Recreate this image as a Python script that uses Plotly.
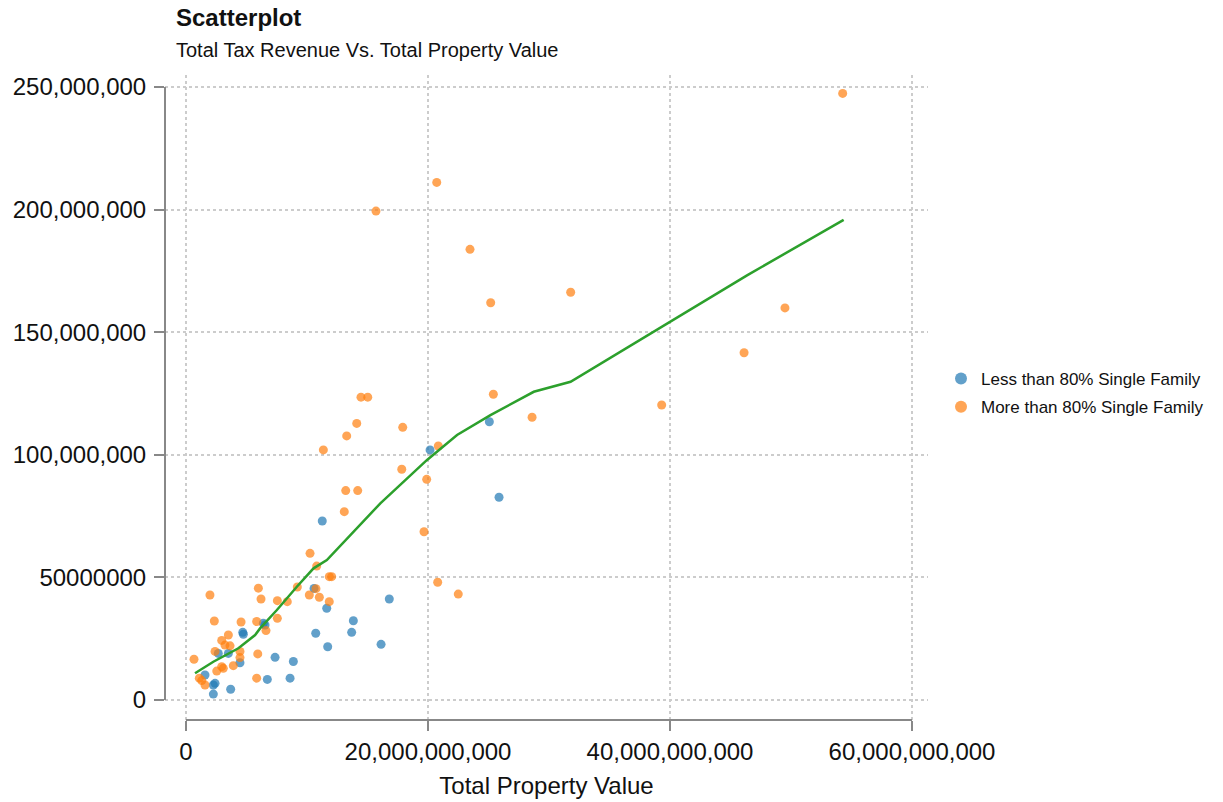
import plotly.graph_objects as go

# ---- data (x in billions of $, y in millions of $) ----
less_x = [20.17, 25.07, 25.87, 11.26, 10.58, 11.63, 16.80, 13.83, 13.69, 10.72,
          11.71, 16.12, 8.87, 8.60, 7.36, 6.72, 4.69, 4.74, 6.39, 6.53,
          2.67, 3.50, 4.46, 3.69, 2.26, 2.40, 2.26, 1.57]
less_y = [102.0, 113.5, 82.7, 73.0, 45.5, 37.4, 41.2, 32.3, 27.6, 27.2,
          21.7, 22.7, 15.7, 8.9, 17.4, 8.4, 27.6, 26.8, 31.3, 30.6,
          19.0, 19.0, 15.2, 4.4, 6.1, 6.8, 2.4, 10.2]

more_x = [54.27, 20.72, 15.70, 23.47, 25.18, 31.79, 49.50, 46.12, 39.31, 28.60,
          25.40, 14.46, 15.02, 14.11, 17.91, 13.28, 11.35, 20.85, 17.83, 19.89,
          13.20, 14.19, 13.08, 19.67, 10.25, 10.80, 11.84, 12.04, 20.80, 22.50,
          1.98, 5.98, 6.20, 7.55, 8.37, 9.20, 10.19, 10.74, 11.02, 11.84,
          2.34, 4.55, 5.84, 6.61, 7.55, 3.50, 2.95, 3.22, 3.64, 2.40,
          4.46, 4.46, 5.93, 0.66, 2.95, 3.08, 3.91, 2.54, 5.84, 1.10,
          1.30, 1.57]
more_y = [247.4, 211.1, 199.4, 183.8, 162.0, 166.3, 159.9, 141.6, 120.3, 115.3,
          124.7, 123.5, 123.5, 112.8, 111.2, 107.7, 102.0, 103.6, 94.1, 90.0,
          85.4, 85.4, 76.8, 68.6, 59.8, 54.6, 50.3, 50.3, 48.0, 43.2,
          42.8, 45.6, 41.2, 40.5, 40.1, 46.1, 42.8, 45.4, 41.9, 40.1,
          32.2, 31.8, 32.0, 28.3, 33.3, 26.5, 24.3, 22.4, 22.1, 19.8,
          19.8, 17.3, 18.8, 16.6, 13.6, 12.9, 14.0, 11.8, 8.9, 8.9,
          7.9, 6.1]

trend_x = [0.745, 2.26, 4.33, 5.71, 6.12, 7.51, 9.16, 10.54, 11.64, 16.06,
           19.92, 22.40, 25.16, 28.74, 31.78, 46.40, 54.35]
trend_y = [10.9, 15.6, 21.1, 26.5, 29.2, 36.7, 46.2, 53.7, 57.1, 80.2,
           97.9, 108.1, 116.2, 125.7, 129.8, 173.3, 195.8]

x_tickvals = [0, 20e9, 40e9, 60e9]
x_ticktext = ["0", "20,000,000,000", "40,000,000,000", "60,000,000,000"]
y_tickvals = [0, 50e6, 100e6, 150e6, 200e6, 250e6]
y_ticktext = ["0", "50000000", "100,000,000", "150,000,000", "200,000,000", "250,000,000"]

B = 1e9
M = 1e6
FONT = "Liberation Sans, Arial, Helvetica, sans-serif"

fig = go.Figure()
fig.add_trace(go.Scatter(
    x=[v * B for v in less_x], y=[v * M for v in less_y], mode="markers",
    name="Less than 80% Single Family", legendgroup="a",
    marker=dict(color="#1f77b4", size=9, opacity=0.7, line=dict(width=0)),
))
fig.add_trace(go.Scatter(
    x=[v * B for v in more_x], y=[v * M for v in more_y], mode="markers",
    name="More than 80% Single Family", legendgroup="b",
    marker=dict(color="#ff7f0e", size=9, opacity=0.7, line=dict(width=0)),
))
fig.add_trace(go.Scatter(
    x=[v * B for v in trend_x], y=[v * M for v in trend_y], mode="lines",
    line=dict(color="#2ca02c", width=2.5), showlegend=False, hoverinfo="skip",
))

axis_common = dict(
    showline=False, zeroline=False, showgrid=True, automargin=False,
    gridcolor="#cccccc", griddash="dot", gridwidth=1.5,
    ticks="outside", ticklen=10, tickwidth=1.5, tickcolor="#888888",
    tickfont=dict(family=FONT, size=24, color="#111111"),
)

# plot area (page px): left 165, right 928, top 75, bottom 720
fig.update_layout(
    width=1223, height=802,
    margin=dict(l=165, r=295, t=75, b=82),
    paper_bgcolor="white", plot_bgcolor="white",
    font=dict(family=FONT, color="#111111"),
    xaxis=dict(
        range=[-1.736e9, 61.32e9], tickvals=x_tickvals, ticktext=x_ticktext,
        title=dict(text="Total Property Value", font=dict(family=FONT, size=24, color="#111111"), standoff=13),
        **axis_common,
    ),
    yaxis=dict(
        range=[-8.16e6, 254.9e6], tickvals=y_tickvals, ticktext=y_ticktext,
        ticklabelstandoff=3,
        **axis_common,
    ),
    legend=dict(
        x=(941 - 165) / 763, xanchor="left", y=(720 - 393) / 645, yanchor="middle",
        font=dict(family=FONT, size=17, color="#111111"),
        tracegroupgap=3, itemsizing="constant",
        bgcolor="rgba(0,0,0,0)",
    ),
    shapes=[
        dict(type="line", xref="paper", yref="y", x0=0, x1=0, y0=0, y1=250e6,
             line=dict(color="#888888", width=2)),
        dict(type="line", xref="x", yref="paper", x0=0, x1=60e9, y0=0, y1=0,
             line=dict(color="#888888", width=2)),
    ],
    annotations=[
        dict(text="<b>Scatterplot</b>", xref="paper", yref="paper",
             x=(174 - 165) / 763, y=(720 - 18) / 645, xanchor="left", yanchor="middle",
             showarrow=False, font=dict(family=FONT, size=24, color="#111111")),
        dict(text="Total Tax Revenue Vs. Total Property Value", xref="paper", yref="paper",
             x=(174 - 165) / 763, y=(720 - 50) / 645, xanchor="left", yanchor="middle",
             showarrow=False, font=dict(family=FONT, size=20, color="#111111")),
    ],
)

fig.write_html("out.html", config={"displayModeBar": False},
               post_script="document.body.style.margin='0px';")
